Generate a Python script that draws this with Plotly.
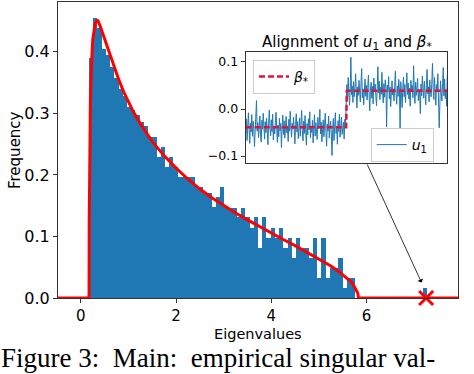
import numpy as np
import plotly.graph_objects as go

# histogram of eigenvalues (density), 80 equal bins between smallest and largest eigenvalue
eig_min, eig_max = 0.17, 7.27
freq = [0.390, 0.455, 0.438, 0.405, 0.395, 0.375, 0.358, 0.340, 0.328, 0.311,
        0.305, 0.297, 0.286, 0.279, 0.262, 0.262, 0.229, 0.245, 0.213, 0.229,
        0.213, 0.197, 0.197, 0.197, 0.197, 0.180, 0.180, 0.170, 0.170, 0.148,
        0.164, 0.180, 0.148, 0.147, 0.147, 0.131, 0.147, 0.131, 0.114, 0.131,
        0.082, 0.131, 0.098, 0.114, 0.098, 0.114, 0.082, 0.098, 0.065, 0.098,
        0.082, 0.082, 0.065, 0.098, 0.032, 0.098, 0.032, 0.048, 0.048, 0.065,
        0.016, 0.033, 0.033, 0, 0, 0, 0, 0, 0, 0,
        0, 0, 0, 0, 0, 0, 0, 0, 0, 0.016]

# Marchenko-Pastur density (red curve)
mp_x = [-0.48, 0.172, 0.175, 0.18, 0.19, 0.2, 0.22, 0.25, 0.3, 0.35, 0.4, 0.5, 0.6,
        0.7, 0.8, 0.9, 1.0, 1.1, 1.25, 1.5, 1.75, 2.0, 2.25, 2.5, 2.75, 3.0, 3.25,
        3.5, 3.75, 4.0, 4.25, 4.5, 4.75, 5.0, 5.25, 5.4, 5.5, 5.6, 5.65, 5.7, 5.75,
        5.78, 5.8, 5.81, 5.82, 5.825, 5.828, 7.95]
mp_y = [0, 0, 0.118, 0.188, 0.267, 0.316, 0.375, 0.420, 0.446, 0.452, 0.443, 0.421, 0.397,
        0.374, 0.354, 0.335, 0.318, 0.303, 0.283, 0.254, 0.231, 0.211, 0.193, 0.177, 0.163,
        0.150, 0.138, 0.127, 0.116, 0.105, 0.095, 0.085, 0.074, 0.064, 0.052, 0.044, 0.038,
        0.032, 0.028, 0.024, 0.018, 0.014, 0.011, 0.009, 0.006, 0.004, 0, 0]

spike_x = [7.25]
spike_y = [0.0]

# inset: leading eigenvector u1 (in thousandths) and the planted signal beta*
u1_milli = [-52, -21, -67, -35, -8, -44, -73, -30, -49, -12, -58, -26, -41, -80, -33, -4, 18, -47, -29, -61,
            -38, -15, -55, -70, -24, -43, -9, -36, -64, -27, -50, -19, -45, -76, -32, -2, -40, -57, -23, -48,
            -11, -66, -37, -53, -28, -7, -42, -71, -34, -59, -20, -46, -31, -82, -39, -13, -54, -25, -62, -44,
            -16, -51, -36, -69, -22, -47, -5, -38, -60, -30, -43, -17, -56, -74, -33, -10, -49, -27, -63, -41,
            -19, -58, -35, -3, -46, -68, -26, -52, -14, -39, -77, -31, -55, -21, -44, -6, -61, -37, -50, -24,
            -72, -40, -12, -57, -29, -48, -65, -18, -42, -34, -1, -53, -28, -70, -45, -23, -59, -36, -9, -50,
            -79, -32, -47, -15, -62, -38, -26, -55, -99, -43, -20, -67, -31, -8, -52, -41, -75, -25, -48, -11,
            -60, -35, -17, -54, -44, -28, -64, -22, -39, -6,
            52, 21, 67, 35, 8, 44, 110, 30, 49, 14, 58, 26, 41, 75, 33, 2, 47, 29, 61, 38,
            15, 55, 86, 24, 43, 9, 36, 64, 27, 50, 19, 45, 72, 32, -4, 40, 57, 23, 48, 11,
            66, 37, 53, 28, 7, 42, 90, 34, 59, 20, 46, 31, 78, 39, 13, 54, 25, 62, 44, -38,
            51, 36, 69, 22, 47, 5, 38, 60, 30, 43, 17, 56, 81, 33, 10, 49, 27, 63, 41, -42,
            58, 35, 3, 46, 68, 26, 52, 14, 39, 77, 31, 55, 21, 44, 6, 61, 37, 50, 24, 92,
            40, 12, 57, 29, 48, 65, 18, 42, 34, -10, 53, 28, 70, 45, 23, 59, 36, 9, 50, 84,
            32, 47, 15, 62, 38, 26, 55, 97, 43, 20, 67, 31, 8, 52, 41, 75, 25, -40, 11, 60,
            35, 17, 54, 88, 28, 64, 22, 39, 6, 71]
beta_levels = [-0.039, 0.039]

u1 = np.array(u1_milli) / 1000.0
n = len(u1)
idx = np.arange(n)
half = n // 2
beta = np.array([beta_levels[0]] * half + [beta_levels[1]] * (n - half))

edges = np.linspace(eig_min, eig_max, len(freq) + 1)
centers = (edges[:-1] + edges[1:]) / 2
bw = edges[1] - edges[0]

BLUE = "#1f77b4"
FONT = "DejaVu Sans"

fig = go.Figure()
fig.add_trace(go.Bar(x=centers, y=freq, width=bw, marker=dict(color=BLUE, line=dict(width=0)),
                     showlegend=False, xaxis="x", yaxis="y"))
fig.add_trace(go.Scatter(x=mp_x, y=mp_y, mode="lines", line=dict(color="red", width=3),
                         showlegend=False, xaxis="x", yaxis="y"))
fig.add_trace(go.Scatter(x=spike_x, y=spike_y, mode="markers", cliponaxis=False,
                         marker=dict(symbol="x-thin", size=14, line=dict(color="red", width=3)),
                         showlegend=False, xaxis="x", yaxis="y"))

# inset
fig.add_trace(go.Scatter(x=idx, y=u1, mode="lines", line=dict(color=BLUE, width=1),
                         name="<i>u</i><sub>1</sub>", legend="legend2", xaxis="x2", yaxis="y2"))
fig.add_trace(go.Scatter(x=idx, y=beta, mode="lines", line=dict(color="#dc143c", width=2.5, dash="6px,3px"),
                         name="<i>β</i><sub>*</sub>", legend="legend", xaxis="x2", yaxis="y2"))

L, R, T, B = 58, 458, 2, 298
W, H = R - L, B - T


def px(x):
    return (x - L) / W


def py(y):
    return (B - y) / H


axis_common = dict(showgrid=False, zeroline=False, showline=True, linecolor="#333", linewidth=1,
                   mirror=True, ticks="outside", ticklen=4, tickcolor="#333")

fig.update_layout(
    width=474, height=374,
    margin=dict(l=L, r=474 - R, t=T, b=374 - B),
    paper_bgcolor="white", plot_bgcolor="white",
    bargap=0,
    font=dict(family=FONT, color="black", size=15),
    xaxis=dict(domain=[0, 1], range=[-0.48, 7.92], tickvals=[0, 2, 4, 6],
               tickfont=dict(size=15), anchor="y", **axis_common),
    yaxis=dict(domain=[0, 1], range=[0, 0.481], tickvals=[0, 0.1, 0.2, 0.3, 0.4], tickformat=".1f",
               tickfont=dict(size=16), anchor="x", **axis_common),
    xaxis2=dict(domain=[px(245.7), px(447.3)], range=[0, n - 1], showticklabels=False,
                anchor="y2", showgrid=False, zeroline=False, showline=True, linecolor="#333",
                linewidth=1, mirror=True, ticks=""),
    yaxis2=dict(domain=[py(163.3), py(52.3)], range=[-0.1155, 0.1206], tickvals=[-0.1, 0, 0.1],
                tickformat=".1f", tickfont=dict(size=12.5), anchor="x2", **axis_common),
    legend=dict(x=px(253), y=py(60), xanchor="left", yanchor="top", bgcolor="rgba(255,255,255,0.8)",
                bordercolor="#cccccc", borderwidth=1, font=dict(size=14), itemwidth=30),
    legend2=dict(x=px(370.7), y=py(128), xanchor="left", yanchor="top", bgcolor="rgba(255,255,255,0.8)",
                 bordercolor="#cccccc", borderwidth=1, font=dict(size=14), itemwidth=30),
    annotations=[
        dict(text="Alignment of <i>u</i><sub>1</sub> and <i>β</i><sub>*</sub>", xref="paper", yref="paper",
             x=px(346.5), y=py(43), xanchor="center", yanchor="middle", showarrow=False,
             font=dict(size=15)),
        dict(text="Eigenvalues", xref="paper", yref="paper", x=0.5, y=py(333.5), xanchor="center",
             yanchor="middle", showarrow=False, borderpad=0, font=dict(size=14.5)),
        dict(text="Frequency", xref="paper", yref="paper", x=px(15), y=0.5, xanchor="center",
             yanchor="middle", textangle=-90, showarrow=False, font=dict(size=15)),
        dict(text="Figure 3:  Main:  empirical singular val-", xref="paper", yref="paper",
             x=px(0), y=py(358), xanchor="left", yanchor="middle", showarrow=False, borderpad=0,
             font=dict(family="Liberation Serif", size=27)),
        dict(text="", x=7.155, y=0.025, ax=6.0, ay=0.2195, xref="x", yref="y", axref="x", ayref="y",
             showarrow=True, arrowhead=1, arrowsize=1.3, arrowwidth=0.8, arrowcolor="black"),
    ],
)

fig.write_html("out.html", config={"displayModeBar": False},
               post_script="document.body.style.margin='0';")
